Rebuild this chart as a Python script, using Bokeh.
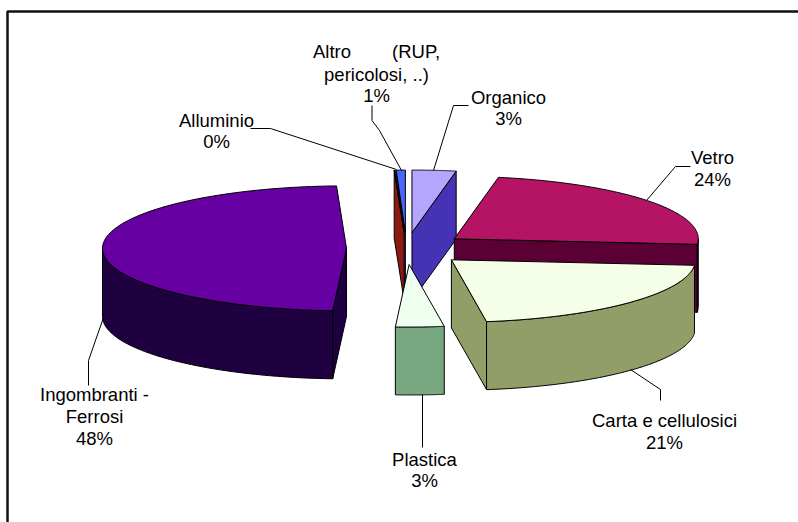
import numpy as np
from bokeh.plotting import figure
from bokeh.embed import file_html
from bokeh.resources import INLINE
from bokeh.core.properties import value

categories = ["Organico", "Vetro", "Carta e cellulosici", "Plastica", "Ingombranti - Ferrosi", "Alluminio", "Altro (RUP, pericolosi, ..)"]
shares = [2.9, 23.5, 21.3, 3.2, 48.45, 0.05, 0.6]
percent_labels = ["3%", "24%", "21%", "3%", "48%", "0%", "1%"]

top_colors = ["#B4A6FF", "#B51464", "#F5FFE8", "#EEFFF0", "#6600A3", "#8B1A10", "#4A66FF"]
side_colors = ["#4633B4", "#5A0035", "#929E68", "#78A880", "#1F0040", "#8B1A10", "#2A3A99"]
explode = [1, 1, 1.03, 1, 1, 1, 1]

CX, CY, A, B, H = 406.0, 248.0, 244.0, 62.5, 68.0
EX, EY = 60.0, 16.0

p = figure(width=798, height=522, x_range=(0, 798), y_range=(522, 0), min_border=0,
           output_backend="svg", toolbar_location=None, outline_line_color=None,
           background_fill_color="white", border_fill_color="white", margin=0)
p.axis.visible = False
p.grid.visible = False
p.xaxis.visible = False
p.yaxis.visible = False

# chart frame: only the top and left edges show in the picture
p.line([798, 7, 7], [11, 11, 522], line_color="#111111", line_width=2.5)

ends = np.cumsum(shares) * 3.6
starts = np.concatenate([[0.0], ends[:-1]])


def rim(th, ax, ay):
    r = np.radians(th)
    return ax + A * np.sin(r), ay - B * np.cos(r)


def poly(xs, ys, fill):
    p.patch(list(xs), list(ys), fill_color=fill, line_color="black", line_width=1)


order = [4, 6, 5, 0, 1, 2, 3]
for i in order:
    t1, t2 = starts[i], ends[i]
    mid = np.radians((t1 + t2) / 2)
    ax = CX + EX * explode[i] * np.sin(mid)
    ay = CY - EY * explode[i] * np.cos(mid)
    if np.sin(np.radians(t1)) < -1e-6:
        rx, ry = rim(t1, ax, ay)
        poly([ax, rx, rx, ax], [ay, ry, ry + H, ay + H], side_colors[i])
    if np.sin(np.radians(t2)) > 1e-6:
        rx, ry = rim(t2, ax, ay)
        poly([ax, rx, rx, ax], [ay, ry, ry + H, ay + H], side_colors[i])
    a1, a2 = max(t1, 90.0), min(t2, 270.0)
    if a2 > a1:
        th = np.linspace(a1, a2, 80)
        rx, ry = rim(th, ax, ay)
        poly(np.r_[rx, rx[::-1]], np.r_[ry, ry[::-1] + H], side_colors[i])
    th = np.linspace(t1, t2, 120)
    rx, ry = rim(th, ax, ay)
    poly(np.r_[ax, rx], np.r_[ay, ry], top_colors[i])

leaders = [
    ([250, 270, 396], [128, 128, 169]),
    ([371.5, 371.5, 379, 401], [105, 120, 130, 170]),
    ([468, 453, 433], [105, 105, 170]),
    ([690, 675, 646], [166, 166, 200]),
    ([630, 660, 660], [369, 389, 400]),
    ([422, 422], [394, 447]),
    ([103, 88, 88], [317, 360, 385]),
]
for lx, ly in leaders:
    p.line(lx, ly, line_color="black", line_width=1)

label_lines = [
    (508, 97, categories[0]), (508, 118, percent_labels[0]),
    (712, 157, categories[1]), (712, 179, percent_labels[1]),
    (664, 420, categories[2]), (664, 442, percent_labels[2]),
    (424, 459, categories[3]), (424, 480, percent_labels[3]),
    (94, 394, "Ingombranti -"), (94, 416, "Ferrosi"), (94, 438, percent_labels[4]),
    (216, 120, categories[5]), (216, 141, percent_labels[5]),
    (376, 51, "Altro\u00a0\u00a0\u00a0\u00a0\u00a0\u00a0\u00a0 (RUP,"), (376, 74, "pericolosi, ..)"), (376, 95, percent_labels[6]),
]
p.text([l[0] for l in label_lines], [l[1] for l in label_lines], text=[l[2] for l in label_lines],
       text_font=value("Liberation Sans"), text_font_size="18.5px", text_color="black",
       text_align="center", text_baseline="middle")

open("out.html", "w").write(file_html(p, INLINE))
